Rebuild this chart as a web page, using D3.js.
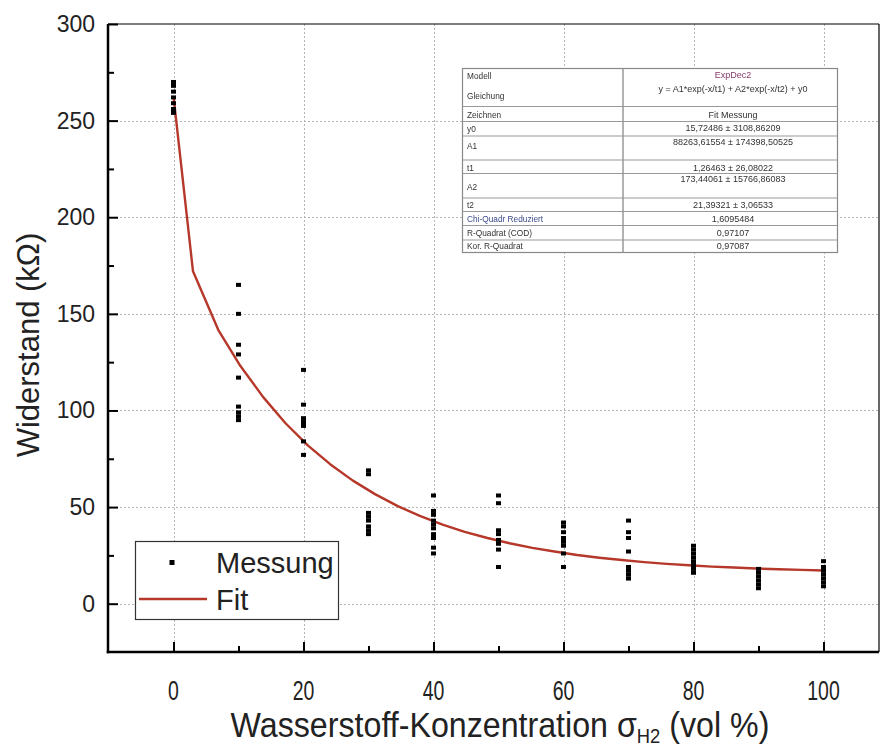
<!DOCTYPE html>
<html>
<head>
<meta charset="utf-8">
<script src="https://cdn.jsdelivr.net/npm/d3@7"></script>
<style>
  html, body { margin: 0; padding: 0; background: #fff; }
  svg { display: block; font-family: "Liberation Sans", Arial, Helvetica, sans-serif; }
</style>
</head>
<body>
<svg id="chart" width="881" height="746"></svg>
<script>
// Wasserstoff-Konzentration (vol %) der Messreihen
const konzentration = [0, 10, 20, 30, 40, 50, 60, 70, 80, 90, 100];

// Gemessene Widerstände (kΩ) je Konzentration
const messung0   = [270, 268, 265, 262, 259, 256, 254];
const messung10  = [165, 150, 134, 129, 117, 102, 99, 97, 95];
const messung20  = [121, 103, 96, 94, 92, 84, 77];
const messung30  = [69, 67, 47, 45, 43, 40, 38, 36];
const messung40  = [56, 48, 46, 43, 41, 39, 36, 34, 29, 26];
const messung50  = [56, 52, 38, 36, 33, 31, 28, 19];
const messung60  = [42, 40, 37, 34, 32, 30, 26, 19];
const messung70  = [43, 37, 34, 27, 19, 17, 15, 13];
const messung80  = [30, 28, 26, 24, 22, 20, 18, 16];
const messung90  = [18, 16, 14, 12, 10, 8];
const messung100 = [22, 19, 17, 15, 13, 11, 9];
const messreihen = [messung0, messung10, messung20, messung30, messung40, messung50,
                    messung60, messung70, messung80, messung90, messung100];

// Stützstellen der Fitkurve (ExpDec2)
const fitX = [0, 3.0, 6.9, 10.3, 13.8, 17.2, 20.7, 24.1, 27.6, 31.0, 34.5, 37.9, 41.4, 44.8, 48.3,
              51.7, 55.2, 58.6, 62.1, 65.5, 69.0, 72.4, 75.9, 79.3, 82.8, 86.2, 89.7, 93.1, 96.6, 100];
const fitY = [262.7, 172.0, 141.6, 123.0, 106.9, 93.5, 81.8, 72.2, 63.7, 56.7, 50.5, 45.4, 40.9, 37.2, 34.0,
              31.3, 28.9, 27.0, 25.2, 23.8, 22.6, 21.5, 20.6, 19.9, 19.2, 18.7, 18.2, 17.8, 17.5, 17.2];

// Achsenbeschriftung
const xTicks = [0, 20, 40, 60, 80, 100];
const xMinorTicks = [10, 30, 50, 70, 90];
const yTicks = [0, 50, 100, 150, 200, 250, 300];
const yMinorTicks = [25, 75, 125, 175, 225, 275];
const xTitle = "Wasserstoff-Konzentration ";
const yTitle = "Widerstand (kΩ)";

// Ergebnistabelle des Fits
const tabelleNamen = ["Modell", "Gleichung", "Zeichnen", "y0", "A1", "t1", "A2", "t2",
                      "Chi-Quadr Reduziert", "R-Quadrat (COD)", "Kor. R-Quadrat"];
const tabelleWerte = ["ExpDec2", "y = A1*exp(-x/t1) + A2*exp(-x/t2) + y0", "Fit Messung",
                      "15,72486 ± 3108,86209", "88263,61554 ± 174398,50525", "1,26463 ± 26,08022",
                      "173,44061 ± 15766,86083", "21,39321 ± 3,06533", "1,6095484", "0,97107", "0,97087"];

const svg = d3.select("#chart");
const pLeft = 108, pRight = 879, pTop = 24, pBottom = 652;

const x = d3.scaleLinear().domain([-10, 108.6]).range([108.5, 879.4]);
const y = d3.scaleLinear().domain([-25, 300]).range([pBottom, pTop]);

// leichte Unschärfe für die kleine Tabellenschrift
const defs = svg.append("defs");
defs.append("filter").attr("id", "weich").attr("x", "-5%").attr("y", "-20%")
  .attr("width", "110%").attr("height", "140%")
  .append("feGaussianBlur").attr("stdDeviation", 0.45);

// Gitterlinien
const grid = svg.append("g").attr("stroke", "#b4b4b4").attr("stroke-width", 1)
  .attr("stroke-dasharray", "2,2");
grid.selectAll("line.gx").data(xTicks).join("line")
  .attr("x1", d => Math.round(x(d)) + 0.5).attr("x2", d => Math.round(x(d)) + 0.5)
  .attr("y1", pTop).attr("y2", pBottom);
grid.selectAll("line.gy").data(yTicks.filter(d => d < 300)).join("line")
  .attr("y1", d => Math.round(y(d)) + 0.5).attr("y2", d => Math.round(y(d)) + 0.5)
  .attr("x1", pLeft).attr("x2", pRight);

// Fitkurve
const line = d3.line().x(d => x(d[0])).y(d => y(d[1])).curve(d3.curveLinear);
svg.append("path")
  .datum(fitX.map((v, i) => [v, fitY[i]]))
  .attr("d", line)
  .attr("fill", "none")
  .attr("stroke", "#b5382a")
  .attr("stroke-width", 2.4)
  .attr("stroke-linejoin", "round");

// Messpunkte
const punkte = [];
konzentration.forEach((c, i) => messreihen[i].forEach(v => punkte.push([c, v])));
svg.append("g").selectAll("rect").data(punkte).join("rect")
  .attr("x", d => x(d[0]) - 2.5).attr("y", d => y(d[1]) - 2)
  .attr("width", 5).attr("height", 4)
  .attr("fill", "#000");

// Achsen (Striche nach innen)
const axisB = d3.axisBottom(x).tickValues(xTicks).tickSize(-10).tickFormat("");
const axisBm = d3.axisBottom(x).tickValues(xMinorTicks).tickSize(-6).tickFormat("");
const axisL = d3.axisLeft(y).tickValues(yTicks).tickSize(-10).tickFormat("");
const axisLm = d3.axisLeft(y).tickValues(yMinorTicks).tickSize(-6).tickFormat("");
[[axisB, `translate(0,${pBottom})`], [axisBm, `translate(0,${pBottom})`],
 [axisL, `translate(${pLeft},0)`], [axisLm, `translate(${pLeft},0)`]].forEach(([a, t]) => {
  const g = svg.append("g").attr("transform", t).call(a);
  g.select(".domain").remove();
  g.selectAll(".tick line").attr("stroke", "#000").attr("stroke-width", 2);
});

// Rahmen
svg.append("line").attr("x1", pLeft).attr("x2", pRight).attr("y1", pTop).attr("y2", pTop)
  .attr("stroke", "#000").attr("stroke-width", 1.2);
svg.append("line").attr("x1", pRight).attr("x2", pRight).attr("y1", pTop).attr("y2", pBottom)
  .attr("stroke", "#000").attr("stroke-width", 1.2);
svg.append("line").attr("x1", pLeft).attr("x2", pLeft).attr("y1", pTop).attr("y2", pBottom + 1.25)
  .attr("stroke", "#000").attr("stroke-width", 2.5);
svg.append("line").attr("x1", pLeft - 1.25).attr("x2", pRight).attr("y1", pBottom).attr("y2", pBottom)
  .attr("stroke", "#000").attr("stroke-width", 2.5);

// Tick-Beschriftungen (schmal gesetzt)
svg.append("g").selectAll("text").data(xTicks).join("text")
  .attr("transform", d => `translate(${x(d)},700) scale(0.72,1)`)
  .attr("text-anchor", "middle")
  .attr("font-size", 27).attr("fill", "#222")
  .text(d => d);
svg.append("g").selectAll("text").data(yTicks).join("text")
  .attr("x", 95).attr("y", d => y(d) + 8)
  .attr("text-anchor", "end")
  .attr("font-size", 23).attr("fill", "#222")
  .text(d => d);

// Achsentitel
const xt = svg.append("text")
  .attr("transform", "translate(500,737) scale(0.92,1)")
  .attr("text-anchor", "middle").attr("font-size", 35).attr("fill", "#222");
xt.append("tspan").text(xTitle + "σ");
xt.append("tspan").attr("font-size", 20).attr("dy", 6).text("H2");
xt.append("tspan").attr("dy", -6).text(" (vol %)");

svg.append("text")
  .attr("transform", "translate(39,345) rotate(-90)")
  .attr("text-anchor", "middle").attr("font-size", 31).attr("fill", "#222")
  .text(yTitle);

// Legende
const leg = svg.append("g");
leg.append("rect").attr("x", 135.5).attr("y", 541.5).attr("width", 203).attr("height", 78)
  .attr("fill", "#fff").attr("stroke", "#333").attr("stroke-width", 1.2);
leg.append("rect").attr("x", 169.5).attr("y", 560).attr("width", 5).attr("height", 5).attr("fill", "#000");
leg.append("text").attr("x", 216).attr("y", 573).attr("font-size", 29).attr("fill", "#222").text("Messung");
leg.append("line").attr("x1", 139).attr("x2", 207).attr("y1", 599).attr("y2", 599)
  .attr("stroke", "#b5382a").attr("stroke-width", 2.4);
leg.append("text").attr("x", 216).attr("y", 610).attr("font-size", 29).attr("fill", "#222").text("Fit");

// Ergebnistabelle
const tab = svg.append("g");
const tx0 = 462.5, tx1 = 623, tx2 = 837.5;
const rowLines = [68.5, 106.5, 121.5, 136, 160, 173.5, 198, 211.5, 225.5, 240, 252.5];
tab.append("rect").attr("x", tx0).attr("y", 68.5).attr("width", tx2 - tx0).attr("height", 184)
  .attr("fill", "#fff").attr("stroke", "#888").attr("stroke-width", 1.2);
tab.selectAll("line.r").data(rowLines.slice(1, -1)).join("line")
  .attr("x1", tx0).attr("x2", tx2).attr("y1", d => d).attr("y2", d => d)
  .attr("stroke", "#999").attr("stroke-width", 1);
tab.append("line").attr("x1", tx1).attr("x2", tx1).attr("y1", 68.5).attr("y2", 252.5)
  .attr("stroke", "#999").attr("stroke-width", 1.5);
const nameY = [76, 96, 115, 129, 146, 167.5, 187, 205, 219, 233, 246];
const wertY = [75, 89, 115, 128, 142, 167.5, 179, 205, 219, 233, 246];
const tabText = tab.append("g").attr("filter", "url(#weich)");
tabText.selectAll("text.n").data(tabelleNamen).join("text")
  .attr("x", 467).attr("y", (d, i) => nameY[i] + 3)
  .attr("font-size", 8.3).attr("fill", (d, i) => i === 8 ? "#3a4a8a" : "#333")
  .text(d => d);
tabText.selectAll("text.w").data(tabelleWerte).join("text")
  .attr("x", 733).attr("y", (d, i) => wertY[i] + 3)
  .attr("text-anchor", "middle")
  .attr("font-size", 9).attr("fill", (d, i) => i === 0 ? "#8a3a6a" : "#333")
  .text(d => d);
</script>
</body>
</html>
